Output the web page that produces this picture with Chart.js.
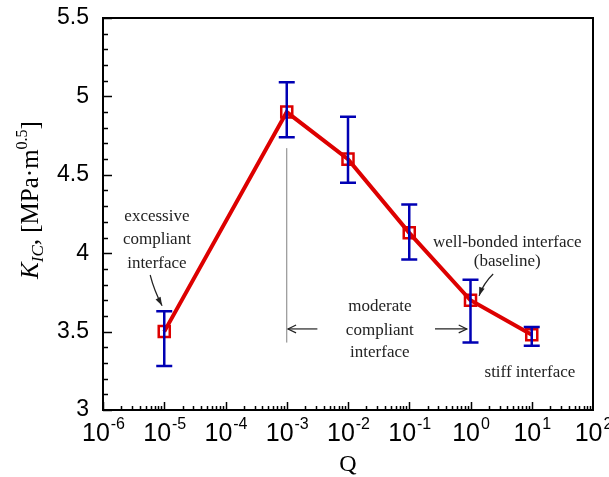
<!DOCTYPE html>
<html>
<head>
<meta charset="utf-8">
<script src="https://cdn.jsdelivr.net/npm/chart.js@4.4.0/dist/chart.umd.min.js"></script>
<style>
  html, body { margin: 0; padding: 0; background: #fff; }
  #wrap { width: 609px; height: 477px; }
</style>
</head>
<body>
<div id="wrap"><canvas id="myChart"></canvas></div>
<script>
// data
const qValues = [1e-5, 1e-3, 1e-2, 1e-1, 1, 10];
const kic = [3.50, 4.90, 4.60, 4.13, 3.70, 3.48];
const errHigh = [3.63, 5.09, 4.87, 4.31, 3.83, 3.53];
const errLow = [3.28, 4.74, 4.45, 3.96, 3.43, 3.41];
const yTicks = ['3', '3.5', '4', '4.5', '5', '5.5'];
const xExponents = [-6, -5, -4, -3, -2, -1, 0, 1, 2];

const RED = '#dd0000';
const BLUE = '#0000b4';
const SERIF = '"Liberation Serif", "Times New Roman", serif';
const SANS = '"Liberation Sans", Arial, sans-serif';

// annotations: x given as log10 exponent, y in K_IC units
const notes = [
  { text: 'excessive', p: -5.12, y: 4.231 },
  { text: 'compliant', p: -5.12, y: 4.084 },
  { text: 'interface', p: -5.12, y: 3.937 },
  { text: 'moderate', p: -1.48, y: 3.657 },
  { text: 'compliant', p: -1.48, y: 3.510 },
  { text: 'interface', p: -1.48, y: 3.364 },
  { text: 'well-bonded interface', p: 0.60, y: 4.071 },
  { text: '(baseline)', p: 0.60, y: 3.944 },
  { text: 'stiff interface', p: 0.97, y: 3.236 }
];
const arrows = [
  { from: [-5.23, 3.861], to: [-5.035, 3.665], curve: 0.06, filled: true },
  { from: [-2.50, 3.517], to: [-2.98, 3.517], curve: 0, filled: false },
  { from: [-0.58, 3.517], to: [-0.06, 3.517], curve: 0, filled: false },
  { from: [0.37, 3.867], to: [0.14, 3.728], curve: 0.12, filled: true }
];

function arrowHead(ctx, x1, y1, x2, y2, filled) {
  const a = Math.atan2(y2 - y1, x2 - x1);
  const len = 9, w = filled ? 0.32 : 0.45;
  ctx.beginPath();
  ctx.moveTo(x2 - len * Math.cos(a - w), y2 - len * Math.sin(a - w));
  ctx.lineTo(x2, y2);
  ctx.lineTo(x2 - len * Math.cos(a + w), y2 - len * Math.sin(a + w));
  if (filled) { ctx.closePath(); ctx.fill(); } else { ctx.stroke(); }
}

const decorPlugin = {
  id: 'decor',
  beforeDatasetsDraw(chart) {
    const ctx = chart.ctx;
    const xs = chart.scales.x, ys = chart.scales.y;
    // thin grey divider at Q = 1e-3
    ctx.save();
    ctx.strokeStyle = '#808080';
    ctx.lineWidth = 1;
    ctx.beginPath();
    ctx.moveTo(xs.getPixelForValue(1e-3), ys.getPixelForValue(4.67));
    ctx.lineTo(xs.getPixelForValue(1e-3), ys.getPixelForValue(3.43));
    ctx.stroke();
    ctx.restore();
  },
  afterDatasetsDraw(chart) {
    const ctx = chart.ctx;
    const xs = chart.scales.x, ys = chart.scales.y;
    // error bars drawn over the line
    ctx.save();
    ctx.strokeStyle = BLUE;
    ctx.lineWidth = 2.5;
    for (let i = 0; i < qValues.length; i++) {
      const px = xs.getPixelForValue(qValues[i]);
      const top = ys.getPixelForValue(errHigh[i]);
      const bot = ys.getPixelForValue(errLow[i]);
      ctx.beginPath();
      ctx.moveTo(px, top); ctx.lineTo(px, bot);
      ctx.moveTo(px - 8, top); ctx.lineTo(px + 8, top);
      ctx.moveTo(px - 8, bot); ctx.lineTo(px + 8, bot);
      ctx.stroke();
    }
    ctx.restore();
  },
  afterDraw(chart) {
    const ctx = chart.ctx;
    const a = chart.chartArea;
    const xs = chart.scales.x, ys = chart.scales.y;
    ctx.save();
    // frame
    ctx.strokeStyle = '#000';
    ctx.lineWidth = 2;
    ctx.strokeRect(a.left, a.top, a.right - a.left, a.bottom - a.top);
    // y ticks (inward)
    ctx.lineWidth = 1.5;
    for (let k = 30; k <= 55; k++) {
      const py = Math.round(ys.getPixelForValue(k / 10)) + 0.5;
      const len = (k % 5 === 0) ? 9 : 5;
      ctx.beginPath();
      ctx.moveTo(a.left, py); ctx.lineTo(a.left + len, py);
      ctx.stroke();
    }
    // x ticks (inward, log minors)
    for (let d = -6; d <= 1; d++) {
      for (let m = 1; m <= 9; m++) {
        const px = Math.round(xs.getPixelForValue(m * Math.pow(10, d))) + 0.5;
        const len = (m === 1) ? 8 : 4;
        ctx.beginPath();
        ctx.moveTo(px, a.bottom); ctx.lineTo(px, a.bottom - len);
        ctx.stroke();
      }
    }
    // x tick labels with superscripts
    ctx.fillStyle = '#000';
    ctx.textBaseline = 'alphabetic';
    ctx.textAlign = 'left';
    xExponents.forEach(p => {
      const px = xs.getPixelForValue(Math.pow(10, p));
      ctx.font = '25px ' + SANS;
      const wb = ctx.measureText('10').width;
      ctx.font = '16px ' + SANS;
      const ws = ctx.measureText(String(p)).width;
      const x0 = px - (wb + ws) / 2;
      ctx.font = '25px ' + SANS;
      ctx.fillText('10', x0, 441);
      ctx.font = '16px ' + SANS;
      ctx.fillText(String(p), x0 + wb + 1, 429);
    });
    // x title
    ctx.font = '24px ' + SERIF;
    ctx.textAlign = 'center';
    ctx.fillText('Q', (a.left + a.right) / 2, 471);
    // y title, rotated
    ctx.save();
    ctx.translate(38, 200);
    ctx.rotate(-Math.PI / 2);
    const parts = [
      { t: 'K', f: 'italic 25px ' + SERIF, dy: 0 },
      { t: 'IC', f: 'italic 17px ' + SERIF, dy: 5 },
      { t: ', [MPa\u00b7m', f: '25px ' + SERIF, dy: 0 },
      { t: '0.5', f: '16px ' + SERIF, dy: -11 },
      { t: ']', f: '25px ' + SERIF, dy: 0 }
    ];
    let total = 0;
    parts.forEach(s => { ctx.font = s.f; s.w = ctx.measureText(s.t).width; total += s.w; });
    let cx = -total / 2;
    ctx.textAlign = 'left';
    parts.forEach(s => { ctx.font = s.f; ctx.fillText(s.t, cx, s.dy); cx += s.w; });
    ctx.restore();
    // annotations
    ctx.font = '17px ' + SERIF;
    ctx.textAlign = 'center';
    ctx.textBaseline = 'middle';
    ctx.fillStyle = '#222';
    notes.forEach(n => {
      ctx.fillText(n.text, xs.getPixelForValue(Math.pow(10, n.p)), ys.getPixelForValue(n.y));
    });
    ctx.strokeStyle = '#222';
    ctx.fillStyle = '#222';
    ctx.lineWidth = 1.2;
    arrows.forEach(ar => {
      const x1 = xs.getPixelForValue(Math.pow(10, ar.from[0])), y1 = ys.getPixelForValue(ar.from[1]);
      const x2 = xs.getPixelForValue(Math.pow(10, ar.to[0])), y2 = ys.getPixelForValue(ar.to[1]);
      const mx = (x1 + x2) / 2 - (y2 - y1) * ar.curve, my = (y1 + y2) / 2 + (x2 - x1) * ar.curve;
      ctx.beginPath();
      ctx.moveTo(x1, y1);
      ctx.quadraticCurveTo(mx, my, x2, y2);
      ctx.stroke();
      arrowHead(ctx, mx, my, x2, y2, ar.filled);
    });
    ctx.restore();
  }
};

const chartContext = document.getElementById('myChart').getContext('2d');
const myChart = new Chart(chartContext, {
  type: 'line',
  data: {
    datasets: [{
      data: qValues.map((q, i) => ({ x: q, y: kic[i] })),
      borderColor: RED,
      borderWidth: 4,
      tension: 0,
      pointStyle: 'rect',
      pointRadius: 7.8,
      pointBorderWidth: 2.5,
      pointBorderColor: RED,
      pointBackgroundColor: 'rgba(0,0,0,0)'
    }]
  },
  options: {
    responsive: true,
    maintainAspectRatio: false,
    animation: false,
    layout: { padding: { top: 18, right: 16, bottom: 0, left: 0 } },
    plugins: { legend: { display: false }, tooltip: { enabled: false } },
    scales: {
      x: {
        type: 'logarithmic',
        min: 1e-6,
        max: 100,
        grid: { display: false, drawTicks: false },
        border: { display: false },
        ticks: { display: false },
        afterFit: s => { s.height = 67; s.paddingLeft = 0; s.paddingRight = 0; }
      },
      y: {
        min: 3,
        max: 5.5,
        grid: { display: false, drawTicks: false },
        border: { display: false },
        ticks: {
          stepSize: 0.5,
          padding: 14,
          color: '#000',
          font: { family: SANS, size: 23 },
          callback: (v, i) => yTicks[i]
        },
        afterFit: s => { s.width = 103; s.paddingTop = 0; s.paddingBottom = 0; }
      }
    }
  },
  plugins: [decorPlugin]
});
</script>
</body>
</html>
